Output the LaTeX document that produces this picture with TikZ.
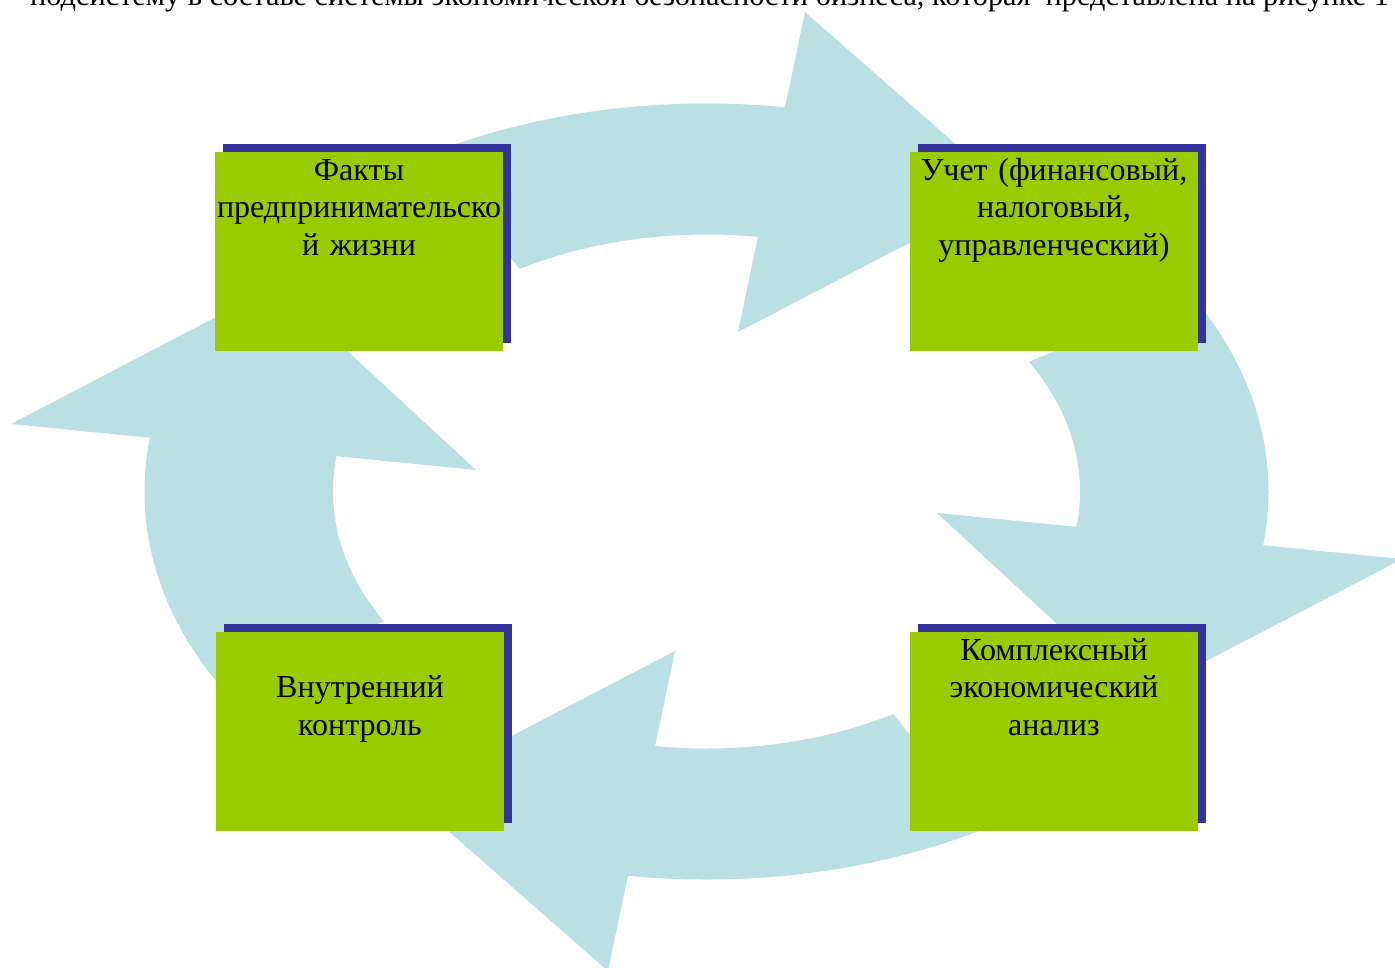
\documentclass[tikz,border=0pt]{standalone}
\usepackage{fontspec}
\setmainfont{Liberation Serif}
\definecolor{ringc}{RGB}{187,224,227}
\definecolor{boxg}{RGB}{153,204,0}
\definecolor{boxs}{RGB}{51,51,153}
\newcommand\cyclepair{%
  \begin{scope}
    \clip (612,385) -- (226,-100) -- (831,-100) -- (723,420) -- cycle;
    \fill[ring,even odd rule] (706.5,491.5) ellipse [x radius=562, y radius=388]
                               (706.5,491.5) ellipse [x radius=373.5, y radius=257];
  \end{scope}
  \fill[ring] (805,12) -- (1009,191) -- (738,332) -- cycle;
  \begin{scope}
    \clip (890,417) -- (1402,213) -- (1600,200) -- (1600,573) -- (1495,571) -- (797,502) -- cycle;
    \fill[ring,even odd rule] (706.5,491.5) ellipse [x radius=562, y radius=388]
                               (706.5,491.5) ellipse [x radius=373.5, y radius=257];
  \end{scope}
  \fill[ring] (1402,559) -- (1136.5,697.5) -- (937,513) -- cycle;
}
\begin{document}
\begin{tikzpicture}[x=1pt,y=-1pt,
  ring/.style={fill=ringc,draw=none},
  shadowbox/.style={fill=boxs,draw=none,minimum width=288,minimum height=199,anchor=north west,inner sep=0pt,outer sep=0pt},
  greenbox/.style={fill=boxg,draw=none,minimum width=288,minimum height=199,anchor=north west,inner sep=0pt,outer sep=0pt},
  lbl/.style={font=\fontsize{32}{37.5}\selectfont,text width=340pt,align=center,anchor=base,inner sep=0pt}]
\useasboundingbox (0,0) rectangle (1395,967);
\clip (0,0) rectangle (1395,967);
\fill[white] (0,0) rectangle (1395,967);
% header line (cut off at the top, as in the reference)
\node[font=\fontsize{30.3}{36}\selectfont,anchor=base west,inner sep=0pt] (hdr) at (30,5)
  {подсистему в составе системы экономической безопасности бизнеса, которая\ \ представлена на рисунке 1};
% cycle arrows
\cyclepair
\begin{scope}[rotate around={180:(706.5,491.5)}]
  \cyclepair
\end{scope}
% boxes
\node[shadowbox] (s1) at (223,144) {};
\node[greenbox]  (b1) at (215,152) {};
\node[shadowbox] (s2) at (918,144) {};
\node[greenbox]  (b2) at (910,152) {};
\node[shadowbox] (s3) at (224,624) {};
\node[greenbox]  (b3) at (216,632) {};
\node[shadowbox] (s4) at (918,624) {};
\node[greenbox]  (b4) at (910,632) {};
% texts
\node[lbl] (t1) at (359,180) {Факты\\предпринимательско\\й жизни};
\node[lbl] (t2) at (1054,180) {Учет (финансовый,\\налоговый,\\управленческий)};
\node[lbl] (t3) at (360,697.5) {Внутренний\\контроль};
\node[lbl] (t4) at (1054,660) {Комплексный\\экономический\\анализ};
\end{tikzpicture}
\end{document}
